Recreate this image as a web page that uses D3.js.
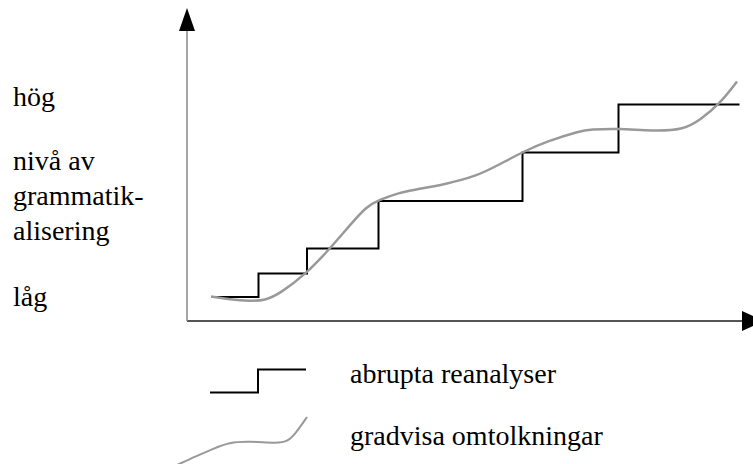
<!DOCTYPE html>
<html>
<head>
<meta charset="utf-8">
<script src="https://cdn.jsdelivr.net/npm/d3@7"></script>
<style>
  html, body { margin: 0; padding: 0; background: #fff; }
  #wrap { position: relative; width: 753px; height: 464px; overflow: hidden; }
  svg { display: block; position: absolute; left: 0; top: 0; }
  .lbl { position: absolute; white-space: nowrap; font-family: "Liberation Serif"; font-size: 28px; line-height: 28px; color: #000; }
</style>
</head>
<body>
<div id="wrap"><svg id="chart" width="753" height="464"></svg></div>
<script>
// ---- data ----
// abrupt reanalyses: step function (x = time, y = level of grammaticalization)
const stepX = [5, 14.3, 24, 38.3, 67.1, 86.3, 110.5];
const stepY = [4.8, 9.5, 14.5, 24, 33.7, 43.3, 43.3];
// gradual reinterpretations: smooth curve
const curveX = [4.8, 8.6, 12.6, 15.6, 18.6, 23.9, 28.6, 32.6, 35.9, 38.3, 42.6, 45.2, 51.9, 57.9, 61.9, 67.3, 71.9, 78.6, 80.6, 86.3, 93.2, 99.2, 102.6, 106.6, 110];
const curveY = [4.9, 4.3, 4.0, 4.1, 5.5, 9.5, 14.5, 19.2, 22.9, 24.2, 25.7, 26.2, 27.4, 29.0, 31.0, 33.9, 35.9, 38.0, 38.3, 38.5, 38.0, 38.2, 40.2, 43.5, 47.9];
// y-axis labels
const yLabelHigh = "hög";
const yLabelLow = "låg";
const yTitleLines = ["nivå av", "grammatik-", "alisering"];
// legend
const legendLabels = ["abrupta reanalyser", "gradvisa omtolkningar"];
// legend sample shapes (in a small unit box)
const legendStepX = [0, 1, 2];
const legendStepY = [0, 1, 1];
const legendCurveX = [0, 0.12, 0.24, 0.36, 0.47, 0.61, 0.80, 0.87, 0.92, 1.0];
const legendCurveY = [0, 0.13, 0.28, 0.42, 0.54, 0.56, 0.52, 0.56, 0.69, 1.0];

const svg = d3.select("#chart");
const wrap = d3.select("#wrap");
const x = d3.scaleLinear().domain([0, 111]).range([187, 742]);
const y = d3.scaleLinear().domain([0, 62]).range([321, 11]);

// axes
svg.append("line")
  .attr("x1", x(0)).attr("x2", x(111))
  .attr("y1", y(0)).attr("y2", y(0))
  .attr("stroke", "#555").attr("stroke-width", 2);
svg.append("line")
  .attr("x1", x(0)).attr("x2", x(0))
  .attr("y1", y(0)).attr("y2", y(62) + 10)
  .attr("stroke", "#888").attr("stroke-width", 1.5);
svg.append("path")
  .attr("d", `M${x(0)},${y(62) - 3} L${x(0) - 8},${y(62) + 20} L${x(0) + 8},${y(62) + 20} Z`)
  .attr("fill", "#000");
svg.append("path")
  .attr("d", `M${x(111)},${y(0) - 10} L${x(111) + 22},${y(0)} L${x(111)},${y(0) + 10} Z`)
  .attr("fill", "#000");

// step series
svg.append("path")
  .datum(stepX.map((d, i) => [d, stepY[i]]))
  .attr("fill", "none").attr("stroke", "#000").attr("stroke-width", 2)
  .attr("d", d3.line().x(d => x(d[0])).y(d => y(d[1])).curve(d3.curveStepAfter));

// smooth series
svg.append("path")
  .datum(curveX.map((d, i) => [d, curveY[i]]))
  .attr("fill", "none").attr("stroke", "#999").attr("stroke-width", 2.5)
  .attr("d", d3.line().x(d => x(d[0])).y(d => y(d[1])).curve(d3.curveBasis));

// legend swatches
const lsx = d3.scaleLinear().domain([0, 2]).range([210, 306]);
const lsy = d3.scaleLinear().domain([0, 1]).range([392.5, 369.5]);
svg.append("path")
  .datum(legendStepX.map((d, i) => [d, legendStepY[i]]))
  .attr("fill", "none").attr("stroke", "#000").attr("stroke-width", 2)
  .attr("d", d3.line().x(d => lsx(d[0])).y(d => lsy(d[1])).curve(d3.curveStepAfter));

const lcx = d3.scaleLinear().domain([0, 1]).range([160, 307]);
const lcy = d3.scaleLinear().domain([0, 1]).range([472, 417]);
svg.append("path")
  .datum(legendCurveX.map((d, i) => [d, legendCurveY[i]]))
  .attr("fill", "none").attr("stroke", "#999").attr("stroke-width", 2)
  .attr("d", d3.line().x(d => lcx(d[0])).y(d => lcy(d[1])).curve(d3.curveBasis));

// text labels as HTML, positioned by baseline (line-height 28px -> baseline ≈ top + 23.5)
function label(xp, baseline, t) {
  wrap.append("div").attr("class", "lbl")
    .style("left", xp + "px")
    .style("top", (baseline - 23.5) + "px")
    .text(t);
}
label(13, 106, yLabelHigh);
label(13, 306, yLabelLow);
yTitleLines.forEach((t, i) => label(13, 170 + i * 35, t));
legendLabels.forEach((t, i) => label(350, 383 + i * 62, t));
</script>
</body>
</html>
